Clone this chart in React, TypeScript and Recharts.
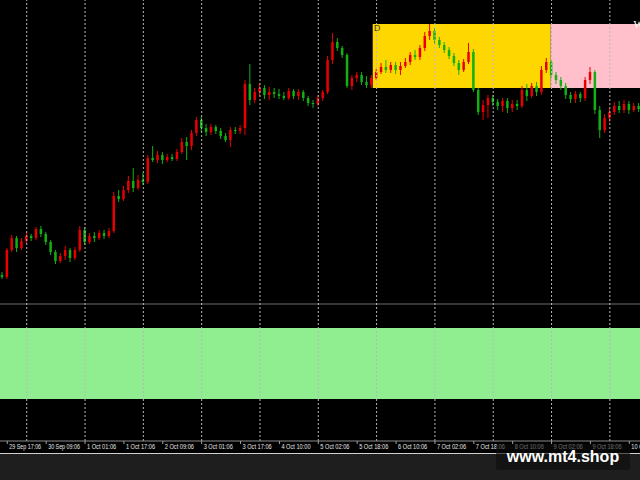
import { ComposedChart, Bar, XAxis, YAxis, ReferenceArea, ReferenceLine } from 'recharts'

// H2 bars, price in points (open of each bar = previous close)
const firstOpen = 225
const closes = [
  223, 250, 262, 252, 259, 264, 262, 271, 266, 258,
  248, 239, 244, 250, 242, 250, 270, 258, 264, 262,
  267, 264, 269, 304, 301, 310, 319, 312, 320, 318,
  342, 340, 345, 340, 343, 341, 348, 358, 354, 367,
  380, 372, 368, 373, 369, 364, 360, 370, 369, 372,
  416, 400, 408, 412, 405, 408, 406, 404, 402, 409,
  404, 408, 402, 397, 396, 402, 408, 440, 458, 452,
  445, 414, 422, 425, 418, 415, 422, 428, 433, 430,
  435, 430, 434, 438, 445, 443, 452, 464, 469, 460,
  455, 450, 444, 437, 430, 438, 448, 410, 388, 395,
  402, 398, 394, 399, 392, 396, 394, 410, 404, 414,
  408, 430, 438, 425, 420, 414, 405, 401, 406, 402,
  420, 428, 390, 370, 382, 388, 394, 390, 396, 390,
  394, 391,
]
const highs = [
  228, 252, 265, 264, 262, 268, 266, 273, 274, 268,
  260, 250, 247, 254, 252, 253, 274, 273, 267, 268,
  270, 270, 272, 308, 310, 314, 324, 332, 325, 327,
  345, 354, 349, 348, 346, 346, 351, 362, 363, 370,
  383, 383, 376, 376, 375, 372, 367, 373, 373, 375,
  420, 436, 412, 417, 415, 413, 412, 411, 408, 412,
  411, 411, 410, 404, 400, 405, 410, 444, 467, 462,
  454, 447, 425, 428, 428, 424, 425, 431, 437, 440,
  438, 438, 438, 442, 448, 450, 455, 468, 476, 472,
  463, 458, 453, 447, 440, 441, 457, 451, 412, 400,
  405, 405, 401, 402, 402, 400, 400, 414, 416, 417,
  418, 434, 442, 440, 428, 423, 417, 408, 409, 408,
  423, 433, 430, 394, 386, 392, 398, 399, 400, 399,
  397, 397,
]
const lows = [
  221, 221, 248, 248, 250, 256, 259, 260, 263, 255,
  245, 236, 237, 240, 238, 240, 248, 255, 256, 258,
  260, 261, 262, 267, 298, 299, 307, 308, 310, 315,
  316, 338, 337, 336, 338, 339, 339, 346, 340, 350,
  364, 368, 364, 365, 366, 361, 358, 353, 366, 366,
  365, 395, 397, 403, 401, 400, 402, 401, 400, 400,
  401, 400, 399, 394, 392, 394, 399, 406, 436, 449,
  442, 412, 410, 418, 415, 412, 412, 420, 426, 427,
  427, 426, 425, 432, 435, 440, 440, 449, 460, 456,
  452, 447, 441, 434, 425, 428, 436, 408, 385, 380,
  382, 394, 390, 388, 387, 388, 390, 392, 399, 402,
  404, 405, 427, 422, 416, 410, 401, 397, 397, 398,
  399, 416, 386, 362, 367, 378, 385, 387, 387, 386,
  388, 388,
]

const tickBars = [1.5, 9.5, 17.5, 25.5, 33.5, 41.5, 49.5, 57.5, 65.5, 73.5, 81.5, 89.5, 97.5, 105.5, 113.5, 121.5, 129.5]
const tickLabels = [
  '29 Sep 17:06', '30 Sep 09:06', '1 Oct 01:06', '1 Oct 17:06', '2 Oct 09:06', '3 Oct 01:06',
  '3 Oct 17:06', '4 Oct 10:00', '5 Oct 02:06', '5 Oct 18:06', '6 Oct 10:06', '7 Oct 02:06',
  '7 Oct 18:06', '8 Oct 10:06', '9 Oct 02:06', '9 Oct 18:06', '10 Oct 10:06',
]
const dayLines = [5.5, 17.5, 29.5, 41.5, 53.5, 65.5, 77.5, 89.5, 101.5, 113.5, 125.5]

const dailyZone = { x1: 76.7, x2: 113.3, low: 412, high: 476 }
const weeklyZone = { x1: 113.3, x2: 131.7, low: 412, high: 476 }
const demandZone = { low: 101, high: 172 }
const levelLine = 196

const BULL = '#e80000'
const BEAR = '#12b012'

const data = closes.map((c, i) => ({
  x: i + 0.5,
  open: i === 0 ? firstOpen : closes[i - 1],
  high: highs[i],
  low: lows[i],
  close: c,
}))

function Candle(props: any) {
  const { x, y, width, height, payload } = props
  if (!payload) return null
  const { open, close, high, low } = payload
  const top = Math.min(y, y + height)
  const h = Math.abs(height)
  const k = h / (high - low || 1)
  const cx = x + width / 2
  const yO = top + (high - open) * k
  const yC = top + (high - close) * k
  const color = close >= open ? BULL : BEAR
  const bTop = Math.min(yO, yC)
  const bH = Math.max(1, Math.abs(yO - yC))
  return (
    <g>
      <line x1={cx} x2={cx} y1={top} y2={top + h} stroke={color} strokeWidth={1} />
      <rect x={cx - 1.25} y={bTop} width={2.5} height={bH} fill={color} />
    </g>
  )
}

function TimeTick(props: any) {
  const { x, y, payload } = props
  const label = tickLabels[tickBars.indexOf(payload.value)] || ''
  return (
    <text
      x={x + 2} y={y + 5} fill='#e6e6e6' fontSize={7}
      fontFamily='"Liberation Sans", Arial, sans-serif'
      textLength={label.length * 2.65} lengthAdjust='spacingAndGlyphs'
    >
      {label}
    </text>
  )
}

export default function App() {
  return (
    <div style={{ position: 'absolute', left: 0, top: 0, width: 640, height: 480, background: '#1e1e1e', overflow: 'hidden' }}>
      <div style={{ width: 640, height: 453, background: '#000', borderBottom: '1px solid #d0d0d0' }}>
        <ComposedChart width={640} height={453} data={data} margin={{ top: 0, right: 0, bottom: 0, left: 0 }}>
          <XAxis
            dataKey='x'
            type='number'
            domain={[0, 131.7]}
            allowDataOverflow
            ticks={tickBars}
            interval={0}
            tick={<TimeTick />}
            tickSize={3}
            tickMargin={0}
            tickLine={{ stroke: '#a0a0a0' }}
            axisLine={{ stroke: '#8a8a8a' }}
            height={12}
          />
          <YAxis hide domain={[59, 500]} allowDataOverflow />
          <ReferenceArea x1={0} x2={131.7} y1={demandZone.low} y2={demandZone.high} fill='#90ee90' fillOpacity={1} stroke='none' />
          <ReferenceArea
            x1={dailyZone.x1} x2={dailyZone.x2} y1={dailyZone.low} y2={dailyZone.high}
            fill='#ffd700' fillOpacity={1} stroke='none'
            label={{ value: 'D', position: 'insideTopLeft', fill: '#3d3300', fontSize: 9, offset: 1 }}
          />
          <ReferenceArea
            x1={weeklyZone.x1} x2={weeklyZone.x2} y1={weeklyZone.low} y2={weeklyZone.high}
            fill='#ffc0cb' fillOpacity={1} stroke='none'
            label={{ value: 'W', position: 'insideTopRight', fill: '#ffffff', fontSize: 11, offset: -4 }}
          />
          <ReferenceLine y={levelLine} stroke='#6e6e6e' strokeWidth={1} />
          {dayLines.map((d) => (
            <ReferenceLine key={d} x={d} stroke='#b8b8b8' strokeDasharray='2 2' strokeWidth={1} />
          ))}
          <Bar dataKey={(d: any) => [d.low, d.high]} barSize={4} shape={<Candle />} isAnimationActive={false} />
        </ComposedChart>
      </div>
      <div
        style={{
          position: 'absolute', left: 496, top: 444, width: 134, height: 26,
          background: 'rgba(12,12,12,0.6)', borderRadius: 3,
          color: '#fff', fontFamily: '"Liberation Sans", Arial, sans-serif', fontWeight: 'bold',
          fontSize: 16, lineHeight: '26px', textAlign: 'center',
        }}
      >
        www.mt4.shop
      </div>
    </div>
  )
}
